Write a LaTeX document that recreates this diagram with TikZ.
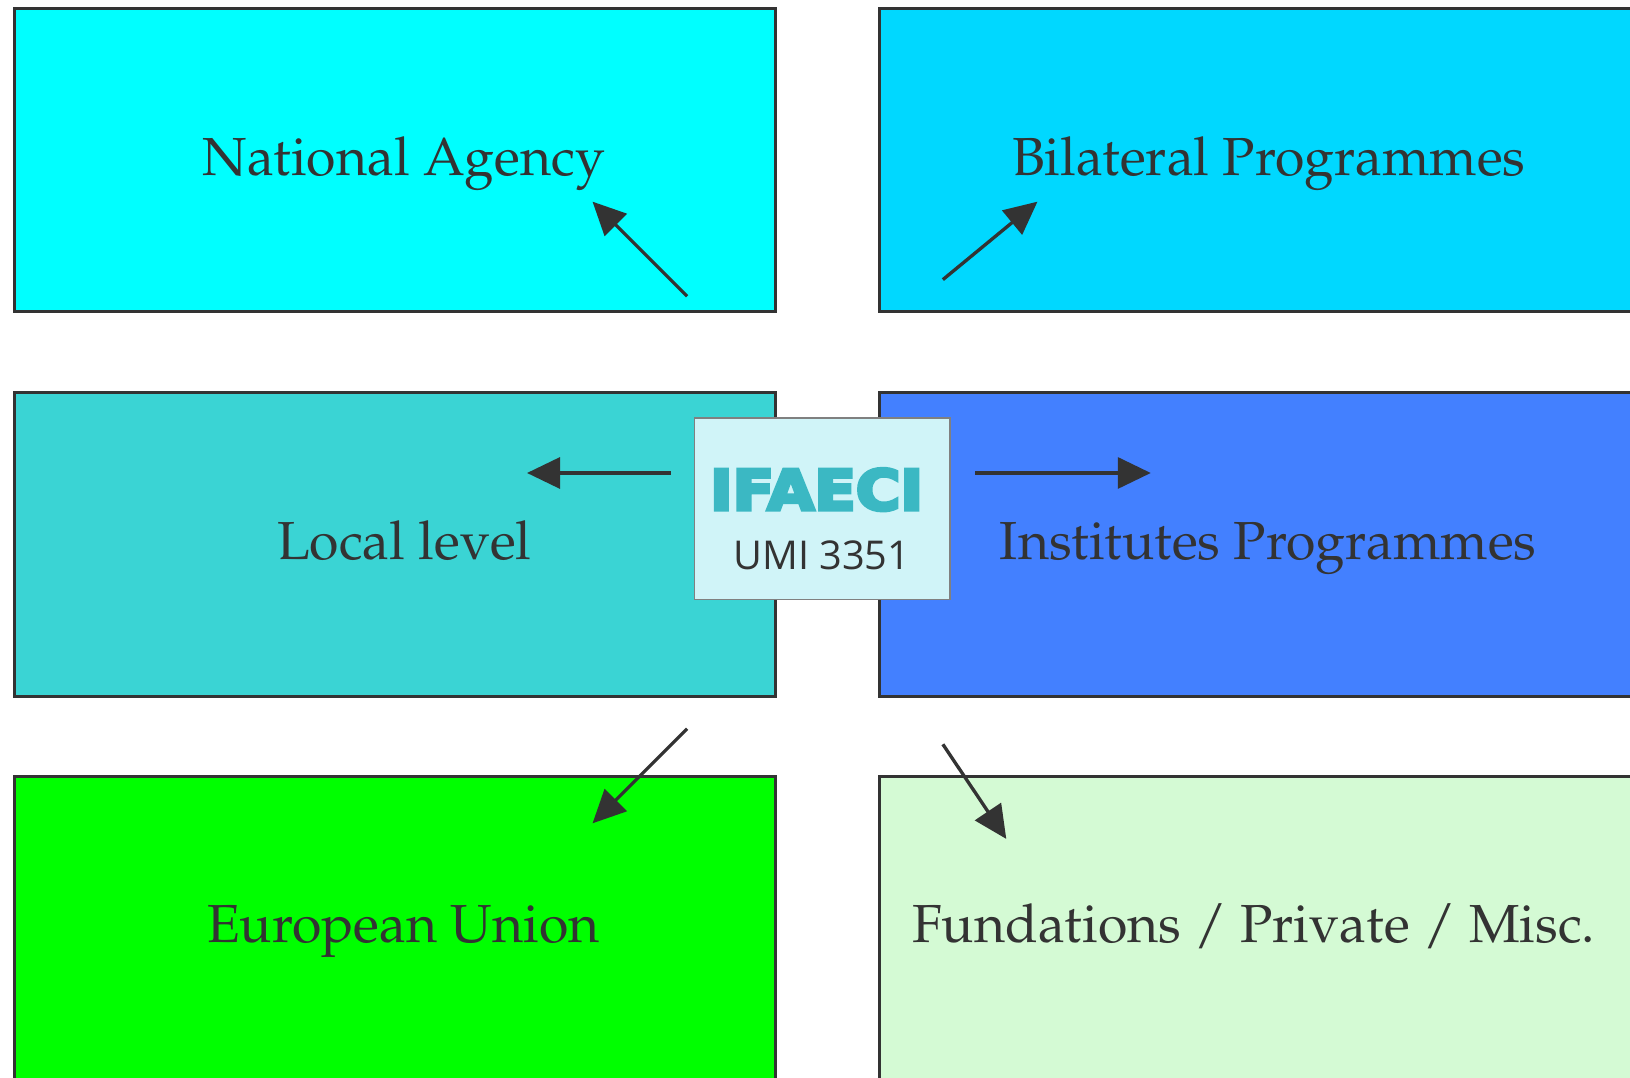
\documentclass[tikz,border=0pt]{standalone}
\usepackage[T1]{fontenc}
\usepackage{fontspec}
\usepackage{tikz}
\usetikzlibrary{arrows.meta}
\newfontfamily\umifont{Open Sans}
\newfontfamily\logofont[FakeBold=6]{DejaVu Sans Bold}

\definecolor{txtgray}{HTML}{333333}
\definecolor{natcol}{HTML}{00FFFF}
\definecolor{bilcol}{HTML}{00D8FF}
\definecolor{loccol}{HTML}{3AD4D4}
\definecolor{inscol}{HTML}{4380FF}
\definecolor{eucol}{HTML}{00FF00}
\definecolor{fndcol}{HTML}{D4FAD4}
\definecolor{logofill}{HTML}{D0F4F8}
\definecolor{logotxt}{HTML}{3BB8C3}

\begin{document}
\begin{tikzpicture}[x=0.020791cm, y=-0.020791cm,
    box/.style={draw=txtgray, line width=1.7pt},
    lbl/.style={text=txtgray, inner sep=0pt, anchor=base,
        font={\fontencoding{T1}\fontfamily{ppl}\fontsize{30.5}{36}\selectfont}},
    arr/.style={draw=txtgray, line width=1.9pt, -{Triangle[length=6.6mm, width=6.2mm]}}]
        \useasboundingbox (0,0) rectangle (1568,1037);
        \clip (0,0) rectangle (1568,1037);

        \draw[box, fill=natcol] (14,8) rectangle (746,300);
        \draw[box, fill=bilcol] (846,8) rectangle (1650,300);
        \draw[box, fill=loccol] (14,378) rectangle (746,670);
        \draw[box, fill=inscol] (846,378) rectangle (1650,670);
        \draw[box, fill=eucol] (14,747) rectangle (746,1100);
        \draw[box, fill=fndcol] (846,747) rectangle (1650,1100);

        \node[lbl] (natag) at (388.5,168.4) {National Agency};
        \node[lbl] (bilat) at (1220.5,168.4) {Bilateral Programmes};
        \node[lbl] (local) at (389,537.8) {Local level};
        \node[lbl] (inst) at (1220,537.8) {Institutes Programmes};
        \node[lbl] (eu) at (388,907) {European Union};
        \node[lbl] (fund) at (1206,907) {Fundations / Private / Misc.};

        \node[draw=gray, line width=0.8pt, fill=logofill, minimum width=5.115cm,
            minimum height=3.638cm, inner sep=0pt] (ifaeci) at (791,489.5) {};
        \node[text=logotxt, inner sep=0pt] (logo) at (785.5,471)
            {\resizebox{4.26cm}{0.83cm}{\logofont IFAECI}};
        \node[text=txtgray, inner sep=0pt, anchor=base,
            font={\umifont\fontsize{22.6}{27}\selectfont}] (umi) at (790.5,548) {UMI 3351};

        \coordinate (a1) at (661,285);
        \coordinate (b1) at (570,194);
        \coordinate (a2) at (907,269);
        \coordinate (b2) at (998,194);
        \coordinate (a3) at (645,455);
        \coordinate (b3) at (507,455);
        \coordinate (a4) at (938,455);
        \coordinate (b4) at (1107,455);
        \coordinate (a5) at (661,701);
        \coordinate (b5) at (570,792);
        \coordinate (a6) at (907,716);
        \coordinate (b6) at (968,807);

        \draw[arr] (a1) to (b1);
        \draw[arr] (a2) to (b2);
        \draw[arr] (a3) to (b3);
        \draw[arr] (a4) to (b4);
        \draw[arr] (a5) to (b5);
        \draw[arr] (a6) to (b6);
    \end{tikzpicture}
\end{document}
